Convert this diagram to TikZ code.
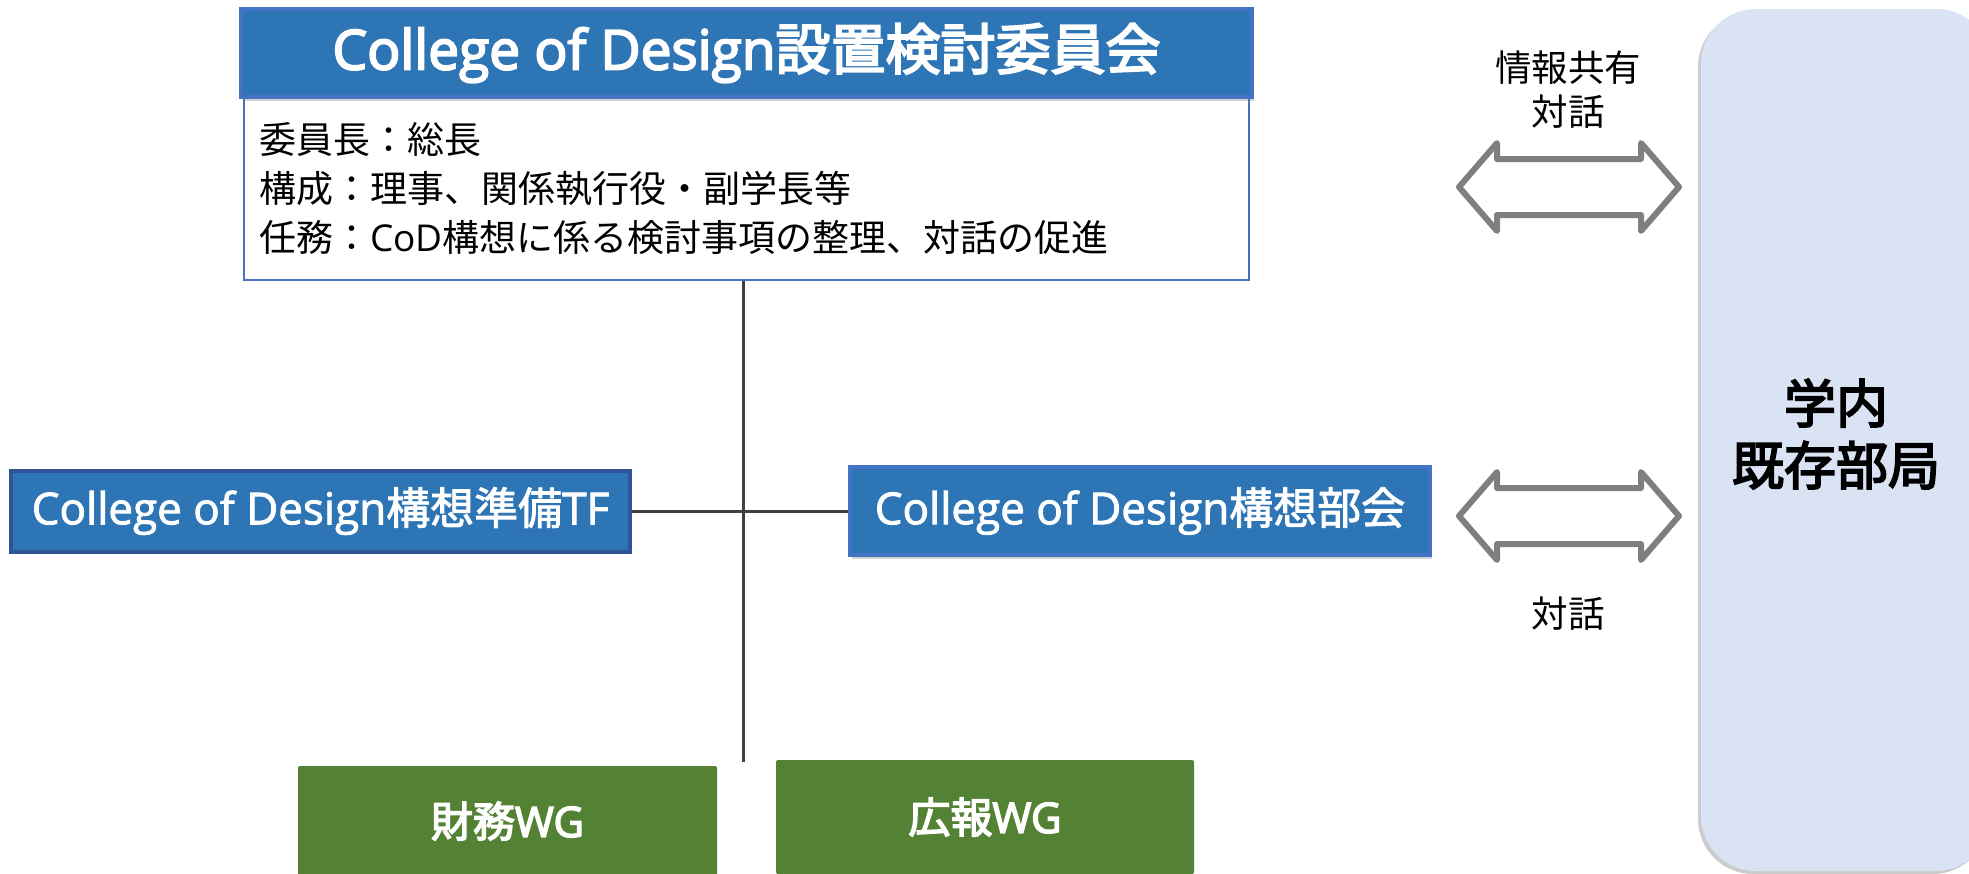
\documentclass[tikz,border=0pt]{standalone}
\usepackage{fontspec}
\setmainfont{Noto Sans CJK JP}
\newfontfamily\lat{Open Sans}
\newfontfamily\latmd[FakeBold=2]{Open Sans}
\newfontfamily\cjkmd[FakeBold=2]{Noto Sans CJK JP}
\newfontfamily\latsb[FakeBold=3.5]{Open Sans}
\newfontfamily\cjksb[FakeBold=3.5]{Noto Sans CJK JP}
\usetikzlibrary{shadows}
\definecolor{hdblue}{HTML}{2E75B6}
\definecolor{hdedge}{HTML}{4472C4}
\definecolor{tfedge}{HTML}{2F5597}
\definecolor{wggreen}{HTML}{548235}
\definecolor{panelblue}{HTML}{DAE3F3}
\definecolor{arrgray}{HTML}{7F7F7F}
\definecolor{linegray}{HTML}{404040}
\tikzset{
  x=1pt, y=-1pt,
  bluebox/.style={draw=hdedge, line width=4pt, fill=hdblue, text=white, inner sep=0pt,
     drop shadow={shadow xshift=2pt, shadow yshift=-4pt, opacity=0.35}},
  tfbox/.style={draw=tfedge, line width=4pt, fill=hdblue, text=white, inner sep=0pt},
  descbox/.style={draw=hdedge, line width=2pt, fill=white, inner sep=0pt},
  wgbox/.style={fill=wggreen, text=white, inner sep=0pt, rounded corners=2pt},
  panel/.style={fill=panelblue, rounded corners=55pt, inner sep=0pt,
     drop shadow={shadow xshift=-3pt, shadow yshift=-3pt, opacity=0.4}},
  conn/.style={draw=linegray, line width=3pt},
  blockarrow/.style={draw=arrgray, line width=6pt, line join=round, fill=white},
  lbl/.style={font=\fontsize{36.5}{44}\selectfont, align=center, inner sep=0pt}
}
\begin{document}
\begin{tikzpicture}
\useasboundingbox (0,0) rectangle (1969,873);
% right panel
\node[panel, minimum width=290pt, minimum height=862pt] (panel) at (1701+145,9+431) {};
\node[font=\fontsize{52}{62}\selectfont\cjksb, align=center, inner sep=0pt] (paneltext) at (1836,434) {学内\\既存部局};
% description box
\node[descbox, minimum width=1005pt, minimum height=183pt, text width=975pt, align=left,
      font=\fontsize{37}{49}\selectfont] (desc) at (746.5,188.5)
  {委員長：総長\\構成：理事、関係執行役・副学長等\\任務：{\lat CoD}構想に係る検討事項の整理、対話の促進};
% title box
\node[bluebox, minimum width=1011pt, minimum height=88pt, font=\fontsize{55}{60}\selectfont] (title) at (746.5,53) {{\latsb College of Design}{\cjksb 設置検討委員会}};
% TF and bukai
\node[tfbox, minimum width=619pt, minimum height=81pt, font=\fontsize{44}{50}\selectfont] (tf) at (320.5,511) {{\latmd College of Design}{\cjkmd 構想準備}{\latmd TF}};
\node[bluebox, minimum width=580pt, minimum height=88pt, font=\fontsize{44}{50}\selectfont] (bukai) at (1140,511) {{\latmd College of Design}{\cjkmd 構想部会}};
% WGs
\node[wgbox, minimum width=419pt, minimum height=110pt, font=\fontsize{42}{48}\selectfont] (wg1) at (507.5,821) {{\cjksb 財務}{\latsb WG}};
\node[wgbox, minimum width=418pt, minimum height=114pt, font=\fontsize{42}{48}\selectfont] (wg2) at (985,817) {{\cjksb 広報}{\latsb WG}};
% connectors
\coordinate (vbot) at (743,762);
\draw[conn] (desc.south -| vbot) -- (vbot);
\draw[conn] (tf.east) -- (bukai.west);
% block arrows
\foreach \n/\cy in {a1/187, a2/516} {
  \draw[blockarrow] (1459,\cy) -- (1497,\cy-44) -- (1497,\cy-28) -- (1641,\cy-28) -- (1641,\cy-44)
     -- (1679,\cy) -- (1641,\cy+44) -- (1641,\cy+28) -- (1497,\cy+28) -- (1497,\cy+44) -- cycle;
}
\node[lbl] (l1) at (1568,90) {情報共有\\対話};
\node[lbl] (l2) at (1568,614) {対話};
\end{tikzpicture}
\end{document}
